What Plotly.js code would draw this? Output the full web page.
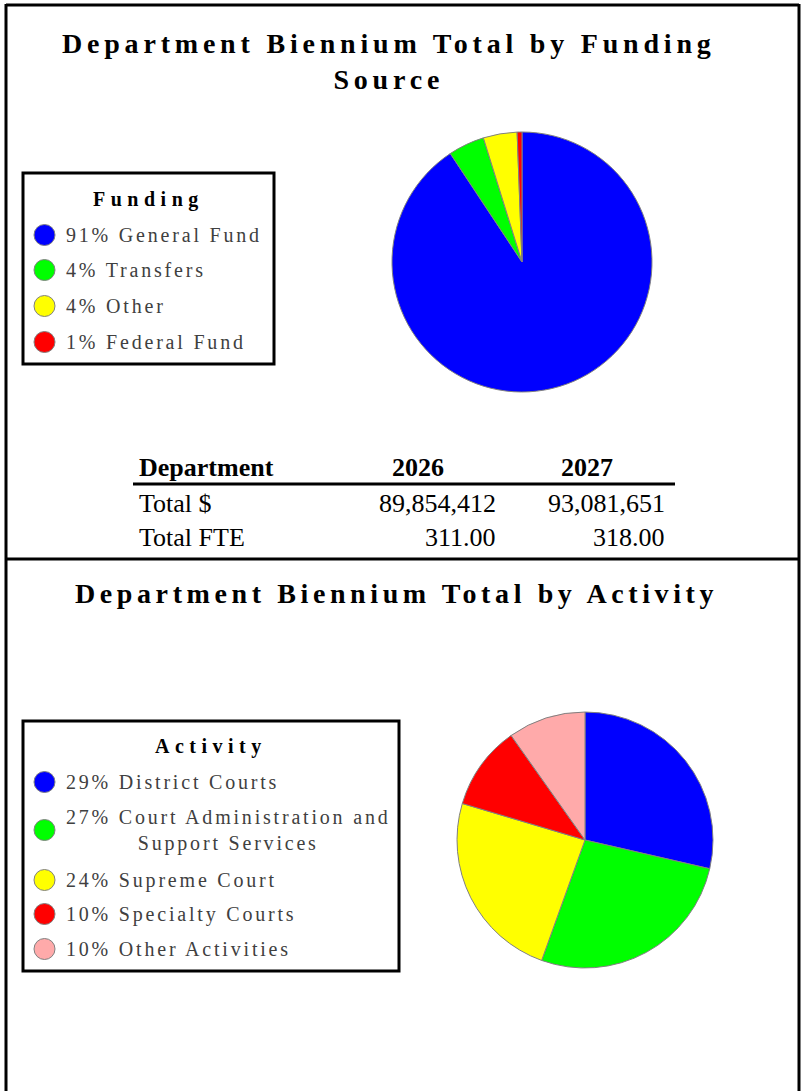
<!DOCTYPE html>
<html><head><meta charset="utf-8">
<script src="https://cdn.plot.ly/plotly-3.0.1.min.js"></script>
<style>html,body{margin:0;padding:0;background:#fff}</style>
</head><body><div id="chart" style="width:803px;height:1091px"></div>
<script>
// ---- data ----
const fundingTitle = 'Department Biennium Total by Funding<br>Source';
const fundingLegendTitle = 'Funding';
const fundingLabels = ['General Fund', 'Transfers', 'Other', 'Federal Fund'];
const fundingPct = [91, 4, 4, 1];
const fundingValues = [90.7, 4.5, 4.2, 0.6];
const fundingColors = ['#0000ff', '#00ff00', '#ffff00', '#ff0000'];

const activityTitle = 'Department Biennium Total by Activity';
const activityLegendTitle = 'Activity';
const activityLabels = ['District Courts', 'Court Administration and<br>Support Services', 'Supreme Court', 'Specialty Courts', 'Other Activities'];
const activityPct = [29, 27, 24, 10, 10];
const activityValues = [28.6, 26.9, 24.1, 10.6, 9.8];
const activityColors = ['#0000ff', '#00ff00', '#ffff00', '#ff0000', '#ffaaaa'];

const tableHeader = ['Department', '2026', '2027'];
const tableRows = ['Total $', 'Total FTE'];
const values2026 = [89854412, 311];
const values2027 = [93081651, 318];

// ---- helpers ----
const W = 803, H = 1091;
const X = x => x / W;
const Y = y => 1 - y / H;
const SERIF = 'Liberation Serif, Times New Roman, serif';
const sp = (t, s) => t.split('<br>').map(l => '<span style="letter-spacing:' + s + 'px">' + l + '</span>').join('<br>');
const fmt = (v, i) => i === 0 ? v.toLocaleString('en-US') : v.toFixed(2);

const shapes = [];
const annotations = [];
function line(x0, y0, x1, y1, w) {
  shapes.push({type: 'line', xref: 'paper', yref: 'paper', x0: X(x0), y0: Y(y0), x1: X(x1), y1: Y(y1), line: {color: '#000', width: w}});
}
function rect(x0, y0, x1, y1, w) {
  shapes.push({type: 'rect', xref: 'paper', yref: 'paper', x0: X(x0), y0: Y(y0), x1: X(x1), y1: Y(y1), line: {color: '#000', width: w}, fillcolor: 'rgba(0,0,0,0)'});
}
function text(t, x, y, opts) {
  annotations.push(Object.assign({xref: 'paper', yref: 'paper', x: X(x), y: Y(y), text: t, showarrow: false,
    xanchor: 'center', yanchor: 'middle', font: {family: SERIF, size: 20, color: '#000'}}, opts || {}));
}

// panel borders
line(6, 5, 799, 5, 3);
line(6, 4, 6, 1095, 3);
line(799, 4, 799, 1095, 3);
line(6, 559, 799, 559, 3);

// titles
text(sp(fundingTitle, 4.8), 389, 61, {font: {family: SERIF, size: 28, color: '#000', weight: 'bold'}});
text(sp(activityTitle, 4.6), 396, 594, {font: {family: SERIF, size: 28, color: '#000', weight: 'bold'}});

// legends
function legend(box, title, titleY, labels, pcts, colors, rowYs) {
  rect(box[0], box[1], box[2], box[3], 3);
  text(sp('<b>' + title + '</b>', 5.5), (box[0] + box[2]) / 2, titleY, {font: {family: SERIF, size: 20, color: '#000'}});
  labels.forEach((lab, i) => {
    const cy = rowYs[i];
    shapes.push({type: 'circle', xref: 'paper', yref: 'paper', x0: X(34), x1: X(55), y0: Y(cy + 10.5), y1: Y(cy - 10.5),
      fillcolor: colors[i], line: {color: '#808080', width: 1}});
    text(sp(pcts[i] + '% ' + lab, 2.8), 64, cy, {xanchor: 'left', align: 'center', font: {family: SERIF, size: 20, color: '#404040'}});
  });
}
legend([23, 173, 274, 364], fundingLegendTitle, 199, fundingLabels, fundingPct, fundingColors, [235, 270, 306, 342]);
legend([23, 721, 399, 971], activityLegendTitle, 746, activityLabels, activityPct, activityColors, [782, 830, 880, 914, 949]);

// department table
const colRight = [null, 498, 667];
const colCenter = [null, 418, 587];
text('<b>' + tableHeader[0] + '</b>', 137, 467, {xanchor: 'left', font: {family: SERIF, size: 26, color: '#000'}});
text('<b>' + tableHeader[1] + '</b>', colCenter[1], 467, {font: {family: SERIF, size: 26, color: '#000'}});
text('<b>' + tableHeader[2] + '</b>', colCenter[2], 467, {font: {family: SERIF, size: 26, color: '#000'}});
line(133, 484, 675, 484, 3);
const rowY = [504, 537];
tableRows.forEach((r, i) => {
  text(r, 137, rowY[i], {xanchor: 'left', font: {family: SERIF, size: 26, color: '#000'}});
  text(fmt(values2026[i], i), colRight[1], rowY[i], {xanchor: 'right', font: {family: SERIF, size: 26, color: '#000'}});
  text(fmt(values2027[i], i), colRight[2], rowY[i], {xanchor: 'right', font: {family: SERIF, size: 26, color: '#000'}});
});

// pies
const pieCommon = {type: 'pie', sort: false, direction: 'clockwise', rotation: 0, textinfo: 'none',
  hoverinfo: 'none', showlegend: false};
const data = [
  Object.assign({}, pieCommon, {labels: fundingLabels, values: fundingValues,
    marker: {colors: fundingColors, line: {color: '#808080', width: 1}},
    domain: {x: [X(392), X(652)], y: [Y(392), Y(132)]}}),
  Object.assign({}, pieCommon, {labels: activityLabels, values: activityValues,
    marker: {colors: activityColors, line: {color: '#808080', width: 1}},
    domain: {x: [X(457), X(713)], y: [Y(968), Y(712)]}})
];

const layout = {width: W, height: H, margin: {l: 0, r: 0, t: 0, b: 0}, paper_bgcolor: '#fff',
  showlegend: false, shapes: shapes, annotations: annotations};
Plotly.newPlot('chart', data, layout, {staticPlot: true, displayModeBar: false});
</script></body></html>
